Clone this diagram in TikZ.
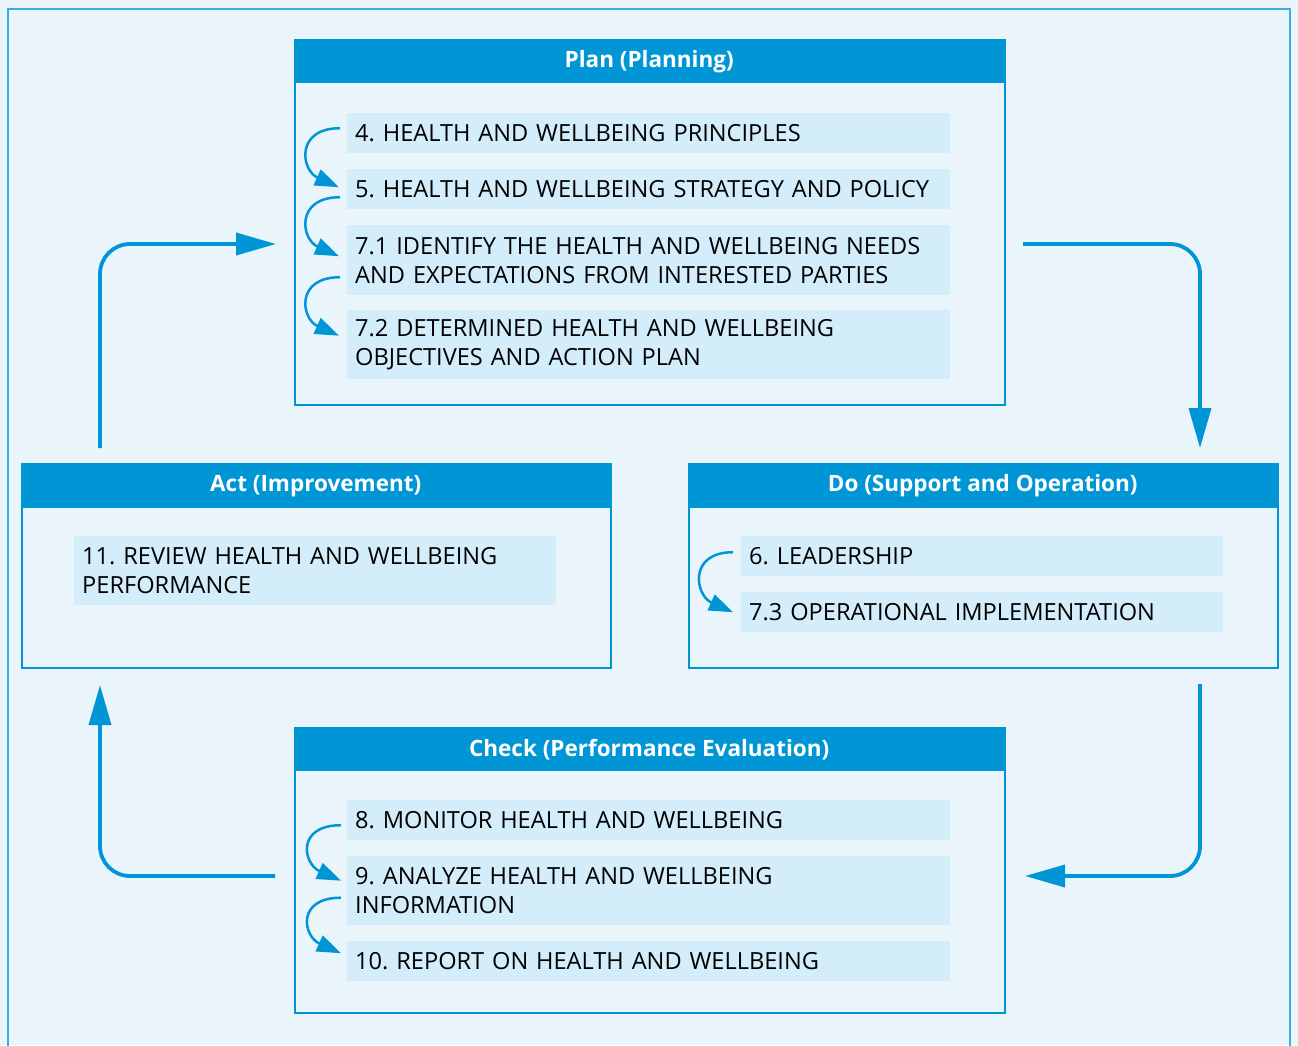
\documentclass[tikz,border=0pt]{standalone}
\usepackage{fontspec}
\setmainfont{Open Sans}
\frenchspacing
\usetikzlibrary{arrows.meta}
\definecolor{bg}{HTML}{E9F4FB}
\definecolor{pblue}{HTML}{0096D6}
\definecolor{frame}{HTML}{3AAEE0}
\definecolor{itemfill}{HTML}{D3EDFA}
\tikzset{
  panel/.style={draw=pblue, line width=2pt, fill=bg, anchor=north west, inner sep=0pt},
  head/.style={fill=pblue, text=white, anchor=north west, inner sep=0pt, font=\fontsize{22.5}{26}\selectfont\bfseries, minimum height=44pt},
  item/.style={fill=itemfill, anchor=north west, inner xsep=8pt, inner ysep=0pt, align=left, font=\fontsize{23.6}{29}\selectfont},
  curv/.style={draw=pblue, line width=2.5pt, -{Triangle[length=24pt,width=17pt]}},
  bigarrow/.style={draw=pblue, line width=3.8pt, rounded corners=30pt, -{Triangle[length=40pt,width=22pt]}}
}
\begin{document}
\begin{tikzpicture}[x=1pt,y=1pt]
\useasboundingbox (0,0) rectangle (1298,-1045);
\fill[bg] (0,0) rectangle (1298,-1045);
\draw[frame, line width=2pt] (8,-9) rectangle (1290,-1070);

% Plan
\node[panel, minimum width=710pt, minimum height=365pt] (plan) at (294,-39) {};
\node[head, minimum width=710pt] (planh) at (294,-39) {Plan (Planning)};
\node[item, text width=587pt, minimum height=40pt] (p1) at (347,-113) {4. HEALTH AND WELLBEING PRINCIPLES};
\node[item, text width=587pt, minimum height=40pt] (p2) at (347,-169) {5. HEALTH AND WELLBEING STRATEGY AND POLICY};
\node[item, text width=587pt, minimum height=70pt] (p3) at (347,-225) {7.1 IDENTIFY THE HEALTH AND WELLBEING NEEDS\\AND EXPECTATIONS FROM INTERESTED PARTIES};
\node[item, text width=587pt, minimum height=69pt] (p4) at (347,-310) {7.2 DETERMINED HEALTH AND WELLBEING\\OBJECTIVES AND ACTION PLAN};

% Act
\node[panel, minimum width=589pt, minimum height=204pt] (act) at (21,-463) {};
\node[head, minimum width=589pt, minimum height=45pt] (acth) at (21,-463) {Act (Improvement)};
\node[item, text width=466pt, minimum height=69pt] (a1) at (74,-536) {11. REVIEW HEALTH AND WELLBEING\\PERFORMANCE};

% Do
\node[panel, minimum width=589pt, minimum height=204pt] (do) at (688,-463) {};
\node[head, minimum width=589pt, minimum height=45pt] (doh) at (688,-463) {Do (Support and Operation)};
\node[item, text width=466pt, minimum height=40pt] (d1) at (741,-536) {6. LEADERSHIP};
\node[item, text width=466pt, minimum height=40pt] (d2) at (741,-592) {7.3 OPERATIONAL IMPLEMENTATION};

% Check
\node[panel, minimum width=710pt, minimum height=285pt] (check) at (294,-727) {};
\node[head, minimum width=710pt] (checkh) at (294,-727) {Check (Performance Evaluation)};
\node[item, text width=587pt, minimum height=40pt] (c1) at (347,-800) {8. MONITOR HEALTH AND WELLBEING};
\node[item, text width=587pt, minimum height=69pt] (c2) at (347,-856) {9. ANALYZE HEALTH AND WELLBEING\\INFORMATION};
\node[item, text width=587pt, minimum height=40pt] (c3) at (347,-941) {10. REPORT ON HEALTH AND WELLBEING};

% small curved arrows
\draw[curv] ([shift={(-7,5)}]p1.west) .. controls +(-45,0) and +(-38,17) .. ([shift={(-8,2)}]p2.west);
\draw[curv] ([shift={(-7,-8)}]p2.west) .. controls +(-45,0) and +(-38,17) .. ([shift={(-8,4)}]p3.west);
\draw[curv] ([shift={(-7,-17)}]p3.west) .. controls +(-45,0) and +(-38,17) .. ([shift={(-8,9)}]p4.west);
\draw[curv] ([shift={(-8,4)}]d1.west) .. controls +(-45,0) and +(-38,17) .. ([shift={(-8,0)}]d2.west);
\draw[curv] ([shift={(-6,-5)}]c1.west) .. controls +(-45,0) and +(-38,17) .. ([shift={(-6,10)}]c2.west);
\draw[curv] ([shift={(-6,-7)}]c2.west) .. controls +(-45,0) and +(-38,17) .. ([shift={(-6,8)}]c3.west);

% big cycle arrows
\draw[bigarrow] ([shift={(79,15)}]act.north west) |- ([shift={(-18,-21.5)}]plan.west);
\draw[bigarrow] ([shift={(17,-21.5)}]plan.east) -| ([shift={(-79,15)}]do.north east);
\draw[bigarrow] ([shift={(-79,-15)}]do.south east) |- ([shift={(19,-5.5)}]check.east);
\draw[bigarrow] ([shift={(-19,-5.5)}]check.west) -| ([shift={(79,-16)}]act.south west);
\end{tikzpicture}
\end{document}
